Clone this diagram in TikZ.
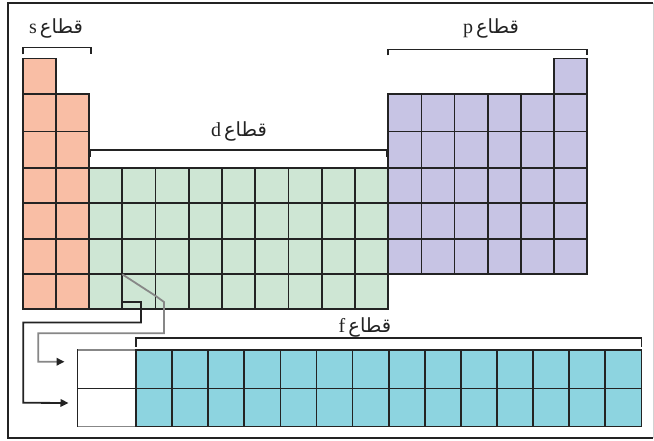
\documentclass[tikz,border=0pt]{standalone}
\usepackage{fontspec}
\setmainfont{Liberation Serif}
\newfontfamily\arabicfont[Script=Arabic]{DejaVu Sans}
\TeXXeTstate=1
\usetikzlibrary{arrows.meta}
\definecolor{sblk}{RGB}{249,190,165}
\definecolor{dblk}{RGB}{206,230,212}
\definecolor{pblk}{RGB}{199,196,228}
\definecolor{fblk}{RGB}{141,212,224}
\definecolor{gridc}{RGB}{35,35,35}
\definecolor{gline}{RGB}{135,135,135}
\newcommand{\blocklabel}[1]{\beginR{\arabicfont\fontsize{19.5}{19.5}\selectfont قطاع}\hspace{3pt}\beginL{\fontsize{20}{20}\selectfont #1}\endL\endR}
\begin{document}
\begin{tikzpicture}[x=1pt,y=-1pt,
  cell/.style={draw=gridc, line width=1.7pt, inner sep=0pt, outer sep=0pt, anchor=north west},
  brk/.style={draw=gridc, line width=1.7pt},
  lbl/.style={inner sep=0pt, anchor=base, text=gridc},
  conn/.style={line width=1.8pt, -{Triangle[length=8pt,width=7.5pt,color=gridc]}},
]
\useasboundingbox (0,0) rectangle (654,441);
\fill[white] (0,0) rectangle (654,441);
\def\R{{58.5,93.8,131.5,168,203.3,239,274.3,309.3}}
% s block
\foreach \r in {1,...,7}{
  \pgfmathsetmacro\yt{\R[\r-1]}
  \pgfmathsetmacro\h{\R[\r]-\R[\r-1]}
  \node[cell, fill=sblk, minimum width=33, minimum height=\h] (s-\r-1) at (23,\yt) {};
  \ifnum\r>1
    \node[cell, fill=sblk, minimum width=33, minimum height=\h] (s-\r-2) at (56,\yt) {};
  \fi
}
% d block
\foreach \r in {4,...,7}{
  \pgfmathsetmacro\yt{\R[\r-1]}
  \pgfmathsetmacro\h{\R[\r]-\R[\r-1]}
  \foreach \c in {1,...,9}{
    \pgfmathsetmacro\xl{89+(\c-1)*33.26}
    \node[cell, fill=dblk, minimum width=33.26, minimum height=\h] (d-\r-\c) at (\xl,\yt) {};
  }
}
% p block
\foreach \r in {2,...,6}{
  \pgfmathsetmacro\yt{\R[\r-1]}
  \pgfmathsetmacro\h{\R[\r]-\R[\r-1]}
  \foreach \c in {1,...,6}{
    \pgfmathsetmacro\xl{388.3+(\c-1)*33.17}
    \node[cell, fill=pblk, minimum width=33.17, minimum height=\h] (p-\r-\c) at (\xl,\yt) {};
  }
}
\node[cell, fill=pblk, minimum width=33.17, minimum height=35.3] (p-1-6) at (554.15,58.5) {};
% f block
\node[cell, fill=white, minimum width=58.5, minimum height=38.5] (wf1) at (77.5,350) {};
\node[cell, fill=white, minimum width=58.5, minimum height=38] (wf2) at (77.5,388.5) {};
\draw[gline, line width=1.7pt] (wf1.north west) -- (wf1.north east);
\draw[gline, line width=1.7pt] (wf2.south west) -- (wf2.south east);
\foreach \r/\yt/\h in {1/350/38.5, 2/388.5/38}{
  \foreach \c in {1,...,14}{
    \pgfmathsetmacro\xl{136+(\c-1)*36.1}
    \node[cell, fill=fblk, minimum width=36.1, minimum height=\h] (f-\r-\c) at (\xl,\yt) {};
  }
}
% brackets
\draw[brk] (23,54.5) -- (23,47.5) -- (91,47.5) -- (91,54.5);
\draw[brk] (388.3,55.5) -- (388.3,49.5) -- (587.3,49.5) -- (587.3,55.5);
\draw[brk] (90,157.5) -- (90,150) -- (387,150) -- (387,157.5);
\draw[brk] (136,346.5) -- (136,338) -- (641.5,338) -- (641.5,346.5);
% labels
\node[lbl] (slbl) at (56,33.5) {\blocklabel{s}};
\node[lbl] (plbl) at (491,34) {\blocklabel{p}};
\node[lbl] (dlbl) at (239,136.5) {\blocklabel{d}};
\node[lbl] (flbl) at (365,332) {\blocklabel{f}};
% connectors
\coordinate (a1) at (d-7-2.west |- 0,302);
\coordinate (a2) at (d-7-2.north west);
\draw[conn, gridc] (a1) -- (141,302) -- (141,322.5) -- (23.3,322.5) -- (23.3,402.75)
  -- ([xshift=-9pt,yshift=4.5pt]wf2.west);
\draw[conn, gline] (a2) -- (156.5,296.5) -- (164,302) -- (164,333.3) -- (38.3,333.3) -- (38.3,361.75)
  -- ([xshift=-13pt,yshift=7.5pt]wf1.west);
% frame
\draw[gridc, line width=2pt] (653,3.5) -- (8,3.5) -- (8,438) -- (653,438);
\draw[gray!35, line width=1pt] (653,3.5) -- (653,438);
\end{tikzpicture}
\end{document}
